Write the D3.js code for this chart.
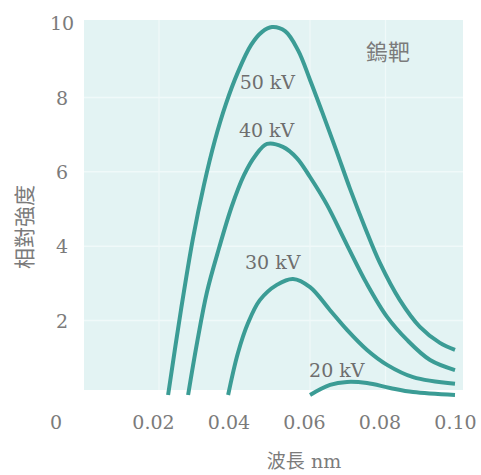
<!DOCTYPE html>
<html><head><meta charset="utf-8">
<script src="https://cdn.jsdelivr.net/npm/d3@7"></script>
<style>html,body{margin:0;padding:0;background:#fff;}</style>
</head><body>
<script>
// Data (wavelength nm, relative intensity)
const xTicks = [0.02, 0.04, 0.06, 0.08, 0.10];
const xTickLabels = ["0.02", "0.04", "0.06", "0.08", "0.10"];
const yTicks = [2, 4, 6, 8, 10];
const yTickLabels = ["2", "4", "6", "8", "10"];
const seriesNames = ["50 kV", "40 kV", "30 kV", "20 kV"];
const kv50 = [[0.0240,0],[0.0274,2.28],[0.0306,4.22],[0.0335,5.65],[0.0364,6.85],[0.0393,7.82],[0.0425,8.68],[0.0460,9.41],[0.0489,9.76],[0.0515,9.89],[0.0550,9.78],[0.0584,9.27],[0.0616,8.47],[0.0648,7.61],[0.0685,6.59],[0.0722,5.54],[0.0762,4.49],[0.0801,3.55],[0.0854,2.55],[0.0907,1.83],[0.0960,1.40],[0.1000,1.21]];
const kv40 = [[0.0293,0],[0.0317,1.42],[0.0343,2.77],[0.0375,3.95],[0.0409,5.08],[0.0441,5.91],[0.0470,6.42],[0.0502,6.75],[0.0544,6.67],[0.0581,6.37],[0.0616,5.86],[0.0661,5.11],[0.0714,4.03],[0.0767,2.98],[0.0820,2.10],[0.0873,1.48],[0.0934,0.94],[0.1000,0.67]];
const kv30 = [[0.0399,0],[0.0425,1.13],[0.0452,1.94],[0.0483,2.55],[0.0528,2.96],[0.0571,3.12],[0.0616,2.90],[0.0669,2.28],[0.0714,1.75],[0.0767,1.21],[0.0820,0.81],[0.0889,0.48],[0.1000,0.30]];
const kv20 = [[0.0616,0],[0.0669,0.27],[0.0714,0.35],[0.0767,0.32],[0.0828,0.19],[0.0889,0.08],[0.1000,0]];
const series = [kv50, kv40, kv30, kv20];
const labelPos = [[0.0503, 8.23], [0.0501, 6.94], [0.0517, 3.39], [0.0687, 0.48]];
const xTitle = "波長";
const xUnit = "nm";
const yTitle = "相對強度";
const targetLabel = "鎢靶";

const W = 481, H = 475;
const svg = d3.select("body").append("svg").attr("width", W).attr("height", H);
const x = d3.scaleLinear().domain([0, 0.10]).range([77.5, 455]);
const y = d3.scaleLinear().domain([0, 10]).range([395, 23]);

const teal = "#3b9c95";
const grey = "#7b7b7b";
const serif = "'DejaVu Serif', serif";

// panel
svg.append("rect").attr("x", 84).attr("y", 20).attr("width", 379).attr("height", 370).attr("fill", "#e3f3f3");
const g = svg.append("g");
g.selectAll("line.hg").data(yTicks.slice(0,4)).join("line")
  .attr("x1", 84).attr("x2", 463).attr("y1", d => y(d)).attr("y2", d => y(d))
  .attr("stroke", "#f0f9f9").attr("stroke-width", 1.5);
g.selectAll("line.vg").data([0.02,0.06,0.08]).join("line")
  .attr("y1", 20).attr("y2", 390).attr("x1", d => x(d)+6).attr("x2", d => x(d)+6)
  .attr("stroke", "#f0f9f9").attr("stroke-width", 1.2);

// axes (labels only)
const xAxis = d3.axisBottom(x).tickValues(xTicks).tickFormat((d,i) => xTickLabels[i]).tickSize(0).tickPadding(0);
const xa = svg.append("g").attr("transform", "translate(0,429)").call(xAxis);
xa.select(".domain").remove();
xa.selectAll("text").attr("font-family", serif).attr("font-size", 19).attr("fill", grey).attr("dy", "0").attr("y", 0);

const yAxis = d3.axisLeft(y).tickValues(yTicks).tickFormat((d,i) => yTickLabels[i]).tickSize(0).tickPadding(0);
const ya = svg.append("g").attr("transform", "translate(62,0)").call(yAxis);
ya.select(".domain").remove();
ya.selectAll("text").attr("font-family", serif).attr("font-size", 19).attr("fill", grey).attr("text-anchor", "middle").attr("dy", "0.35em");

svg.append("text").attr("x", 56).attr("y", 422).attr("dy", "0.35em").attr("text-anchor", "middle")
  .attr("font-family", serif).attr("font-size", 19).attr("fill", grey).text("0");

// curves
const line = d3.line().x(d => x(d[0])).y(d => y(d[1])).curve(d3.curveCatmullRom.alpha(0.5));
svg.selectAll("path.curve").data(series).join("path")
  .attr("d", line).attr("fill", "none").attr("stroke", teal).attr("stroke-width", 4).attr("stroke-linecap", "butt");

// labels
svg.selectAll("text.kv").data(seriesNames).join("text")
  .attr("x", (d,i) => x(labelPos[i][0])).attr("y", (d,i) => y(labelPos[i][1]))
  .attr("text-anchor", "middle").attr("font-family", serif).attr("font-size", 19).attr("fill", "#6e6e6e")
  .text(d => d);

svg.append("text").attr("x", 388).attr("y", 60).attr("text-anchor", "middle")
  .attr("font-family", "'Noto Sans CJK TC', sans-serif").attr("font-size", 22).attr("fill", grey).text(targetLabel);

const xt = svg.append("text").attr("x", 304).attr("y", 468).attr("text-anchor", "middle")
  .attr("font-size", 19).attr("fill", grey);
xt.append("tspan").attr("font-family", "'Noto Sans CJK TC', sans-serif").text(xTitle);
xt.append("tspan").attr("font-family", serif).text(" " + xUnit);

svg.append("text").attr("transform", "translate(32,227) rotate(-90)").attr("text-anchor", "middle")
  .attr("font-family", "'Noto Sans CJK TC', sans-serif").attr("font-size", 21).attr("fill", grey).text(yTitle);
</script>
</body></html>
